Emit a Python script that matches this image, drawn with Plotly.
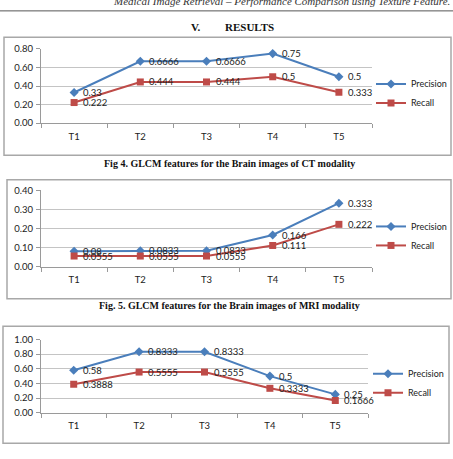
import plotly.graph_objects as go

W, H = 453, 459

categories = ["T1", "T2", "T3", "T4", "T5"]

ct_precision = [0.33, 0.6666, 0.6666, 0.75, 0.5]
ct_recall = [0.222, 0.444, 0.444, 0.5, 0.333]
ct_precision_lbl = ["0.33", "0.6666", "0.6666", "0.75", "0.5"]
ct_recall_lbl = ["0.222", "0.444", "0.444", "0.5", "0.333"]

mri_precision = [0.08, 0.0833, 0.0833, 0.166, 0.333]
mri_recall = [0.0555, 0.0555, 0.0555, 0.111, 0.222]
mri_precision_lbl = ["0.08", "0.0833", "0.0833", "0.166", "0.333"]
mri_recall_lbl = ["0.0555", "0.0555", "0.0555", "0.111", "0.222"]

c3_precision = [0.58, 0.8333, 0.8333, 0.5, 0.25]
c3_recall = [0.3888, 0.5555, 0.5555, 0.3333, 0.1666]
c3_precision_lbl = ["0.58", "0.8333", "0.8333", "0.5", "0.25"]
c3_recall_lbl = ["0.3888", "0.5555", "0.5555", "0.3333", "0.1666"]

y_ranges = [(0, 0.8, 0.2), (0, 0.4, 0.1), (0, 1.0, 0.2)]

BLUE = "#4A7EBB"
RED = "#BE4B48"
GRID = "#c4c4c4"
AX = "#9a9a9a"
FONT = "Lato, Liberation Sans, sans-serif"
SERIF = "Liberation Serif, Times New Roman, serif"


def fx(px):
    return px / W


def fy(py):
    return 1 - py / H


# plot area pixel geometry: (left, right, y_of_top_value, y_of_zero)
plots = [(41, 372, 44, 120), (41, 372, 189, 267), (41, 368, 341.7, 416.7)]
boxes = [(4, 32, 451, 153), (7, 178, 451, 300), (3, 328, 449, 448)]
legend_pos = [(371, 65), (371, 211), (368, 362)]

series = [
    (ct_precision, ct_recall, ct_precision_lbl, ct_recall_lbl),
    (mri_precision, mri_recall, mri_precision_lbl, mri_recall_lbl),
    (c3_precision, c3_recall, c3_precision_lbl, c3_recall_lbl),
]

fig = go.Figure()
layout = dict(
    width=W, height=H, margin=dict(l=0, r=0, t=0, b=0),
    paper_bgcolor="white", plot_bgcolor="white",
    font=dict(family=FONT, size=9, color="#222"),
    shapes=[], annotations=[],
)

for i, (p, r, pl, rl) in enumerate(series):
    n = "" if i == 0 else str(i + 1)
    leg = "legend" if i == 0 else "legend" + str(i + 1)
    fig.add_trace(go.Scatter(
        x=categories, y=p, name="Precision", mode="lines+markers",
        line=dict(color=BLUE, width=2),
        marker=dict(symbol="diamond", size=7, color=BLUE),
        xaxis="x" + n, yaxis="y" + n, legend=leg, cliponaxis=False,
    ))
    fig.add_trace(go.Scatter(
        x=categories, y=r, name="Recall", mode="lines+markers",
        line=dict(color=RED, width=2),
        marker=dict(symbol="square", size=7, color=RED),
        xaxis="x" + n, yaxis="y" + n, legend=leg, cliponaxis=False,
    ))
    for vals, lbls in ((p, pl), (r, rl)):
        for c, v, t in zip(categories, vals, lbls):
            layout["annotations"].append(dict(
                x=c, y=v, text=t, xref="x" + n, yref="y" + n,
                xanchor="left", yanchor="middle", xshift=7, showarrow=False,
                font=dict(size=9.5, family=FONT, color="#222"),
            ))
    left, right, ytop, yzero = plots[i]
    y0, y1, dt = y_ranges[i]
    layout["xaxis" + n] = dict(
        domain=[fx(left), fx(right)], anchor="y" + n,
        type="category", range=[-0.5, 4.5], tickson="boundaries",
        ticks="outside", ticklen=4, tickcolor=AX, showline=True,
        linecolor=AX, linewidth=1, showgrid=False, fixedrange=True,
        ticklabelstandoff=4,
        tickfont=dict(size=9.5, family=FONT, color="#222"),
    )
    layout["yaxis" + n] = dict(
        domain=[fy(yzero), fy(ytop)], anchor="x" + n,
        range=[y0, y1], dtick=dt, tickformat=".2f",
        ticks="outside", ticklen=4, tickcolor=AX, showline=True,
        linecolor=AX, linewidth=1, showgrid=True, gridcolor=GRID,
        gridwidth=1, zeroline=False, fixedrange=True,
        ticklabelstandoff=1,
        tickfont=dict(size=9.5, family=FONT, color="#222"),
    )
    lx, ly = legend_pos[i]
    layout[leg] = dict(
        x=fx(lx), y=fy(ly), xanchor="left", yanchor="top",
        bgcolor="rgba(0,0,0,0)", font=dict(size=9, family=FONT, color="#222"),
        itemwidth=30, tracegroupgap=0,
    )
    bx0, by0, bx1, by1 = boxes[i]
    layout["shapes"].append(dict(
        type="rect", xref="paper", yref="paper",
        x0=fx(bx0), x1=fx(bx1), y0=fy(by1), y1=fy(by0),
        line=dict(color="#a8a8a8", width=1.5), fillcolor="rgba(0,0,0,0)",
    ))

# header rule
layout["shapes"].append(dict(
    type="line", xref="paper", yref="paper",
    x0=0, x1=1, y0=fy(5), y1=fy(5), line=dict(color="#555", width=1),
))

layout["annotations"] += [
    dict(text="<i>Medical Image Retrieval – Performance Comparison using Texture Feature.</i>",
         xref="paper", yref="paper", x=fx(452), y=fy(3), xanchor="right", yanchor="bottom",
         showarrow=False, font=dict(family=SERIF, size=11, color="#333")),
    dict(text="<b>V.</b>", xref="paper", yref="paper", x=fx(189), y=fy(22),
         xanchor="left", yanchor="middle", showarrow=False,
         font=dict(family=SERIF, size=11, color="#111")),
    dict(text="<b>RESULTS</b>", xref="paper", yref="paper", x=fx(223), y=fy(22),
         xanchor="left", yanchor="middle", showarrow=False,
         font=dict(family=SERIF, size=11, color="#111")),
    dict(text="<b>Fig 4. GLCM features for the Brain images of CT modality</b>",
         xref="paper", yref="paper", x=fx(229.5), y=fy(161), xanchor="center", yanchor="middle",
         showarrow=False, font=dict(family=SERIF, size=10, color="#111")),
    dict(text="<b>Fig. 5. GLCM features for the Brain images of MRI modality</b>",
         xref="paper", yref="paper", x=fx(229.5), y=fy(307), xanchor="center", yanchor="middle",
         showarrow=False, font=dict(family=SERIF, size=10, color="#111")),
]

fig.update_layout(**layout)
fig.write_html("out.html")
